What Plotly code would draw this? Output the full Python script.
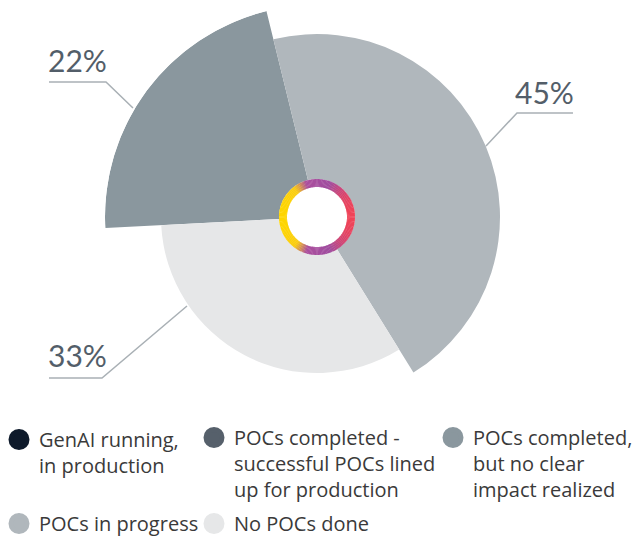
import numpy as np
import plotly.graph_objects as go

# survey answer categories (legend order)
categories = [
    "GenAI running,<br>in production",
    "POCs completed -<br>successful POCs lined<br>up for production",
    "POCs completed,<br>but no clear<br>impact realized",
    "POCs in progress",
    "No POCs done",
]
shares = [0, 0, 22, 45, 33]  # percent
colors = ["#0e1a2b", "#56606b", "#8a979e", "#b0b7bc", "#e6e7e8"]

# slice drawing order (clockwise) and outer radius of each slice
slice_order = [2, 3, 4]
slice_radius = {2: 212, 3: 183, 4: 156}
start_angle = -93
ring_in, ring_out = 30, 38

W, H = 643, 536


def px(x):
    return x / W


def py(y):
    return 1 - y / H


fig = go.Figure()

# pie slices with different radii
thetas, widths, rs, cols = [], [], [], []
a = start_angle
for i in slice_order:
    w = shares[i] * 3.6
    thetas.append(a + w / 2)
    widths.append(w)
    rs.append(slice_radius[i] - ring_out)
    cols.append(colors[i])
    a += w
fig.add_trace(go.Barpolar(
    theta=thetas, width=widths, r=rs, base=ring_out,
    marker=dict(color=cols, line=dict(width=0)),
    showlegend=False, hoverinfo="skip",
))

# gradient ring in the middle (left yellow -> purple -> right red)
stops = [(-1.0, (255, 214, 0)), (-0.62, (250, 205, 20)), (-0.3, (172, 80, 158)),
         (0.35, (160, 78, 160)), (0.75, (214, 70, 112)), (1.0, (240, 68, 88))]


def grad(x):
    for (x0, c0), (x1, c1) in zip(stops[:-1], stops[1:]):
        if x <= x1:
            t = (x - x0) / (x1 - x0)
            return "rgb(%d,%d,%d)" % tuple(int(c0[k] + t * (c1[k] - c0[k])) for k in range(3))
    return "rgb(%d,%d,%d)" % stops[-1][1]


n = 180
ring_theta = np.arange(n) * 360 / n
ring_cols = [grad(np.sin(np.radians(t))) for t in ring_theta]
fig.add_trace(go.Barpolar(
    theta=ring_theta, width=[360 / n + 0.6] * n, r=[ring_out - ring_in] * n, base=ring_in,
    marker=dict(color=ring_cols, line=dict(width=0)),
    showlegend=False, hoverinfo="skip",
))

# legend entries, split into three columns
legend_col = ["legend", "legend2", "legend3", "legend", "legend2"]
for k, (name, c) in enumerate(zip(categories, colors)):
    fig.add_trace(go.Scatterpolar(
        r=[None], theta=[None], mode="markers", name=name,
        legend=legend_col[k], legendgroup="g%d" % k,
        marker=dict(size=16, color=c, symbol="circle", line=dict(color=c, width=5)),
    ))

R = 212
cx, cy = 317, 217
leg = dict(orientation="v", xanchor="left", yanchor="top", valign="top",
           itemsizing="trace", font=dict(family="Open Sans", size=20, color="#3a3a3a"),
           bgcolor="rgba(0,0,0,0)")
fig.update_layout(
    width=W, height=H,
    margin=dict(l=0, r=0, t=0, b=0, autoexpand=False),
    paper_bgcolor="white",
    font=dict(family="Open Sans", color="#3a3a3a"),
    polar=dict(
        domain=dict(x=[px(cx - R), px(cx + R)], y=[py(cy + R), py(cy - R)]),
        bgcolor="white",
        radialaxis=dict(range=[0, R], visible=False, showgrid=False),
        angularaxis=dict(direction="clockwise", rotation=90, visible=False, showgrid=False),
        bargap=0,
    ),
    legend=dict(leg, x=-1 / W, y=1 - 420 / H, tracegroupgap=29),
    legend2=dict(leg, x=194 / W, y=1 - 418 / H, tracegroupgap=5),
    legend3=dict(leg, x=433 / W, y=1 - 418 / H),
)

# percentage labels with leader lines
labels = {
    2: dict(x=46, y=60, path=[(49, 82), (106, 82), (133, 108)]),
    3: dict(x=513, y=92, path=[(573, 113), (517, 113), (486, 146)]),
    4: dict(x=46, y=355, path=[(49, 378), (102, 378), (187, 306)]),
}
for i, lab in labels.items():
    fig.add_annotation(
        x=px(lab["x"]), y=py(lab["y"]), xref="paper", yref="paper",
        text="%d%%" % shares[i], showarrow=False, xanchor="left", yanchor="middle",
        font=dict(family="Lato", size=30, color="#535e69"),
    )
    pts = lab["path"]
    d = "M %f %f " % (px(pts[0][0]), py(pts[0][1])) + " ".join(
        "L %f %f" % (px(x_), py(y_)) for x_, y_ in pts[1:])
    fig.add_shape(type="path", path=d, xref="paper", yref="paper",
                  line=dict(color="#a9b0b5", width=1.5))

# page body has a default 8px margin; drop it so the figure fills the window
fig.write_html("out.html", config={"displayModeBar": False},
               post_script="document.body.style.margin='0';")
